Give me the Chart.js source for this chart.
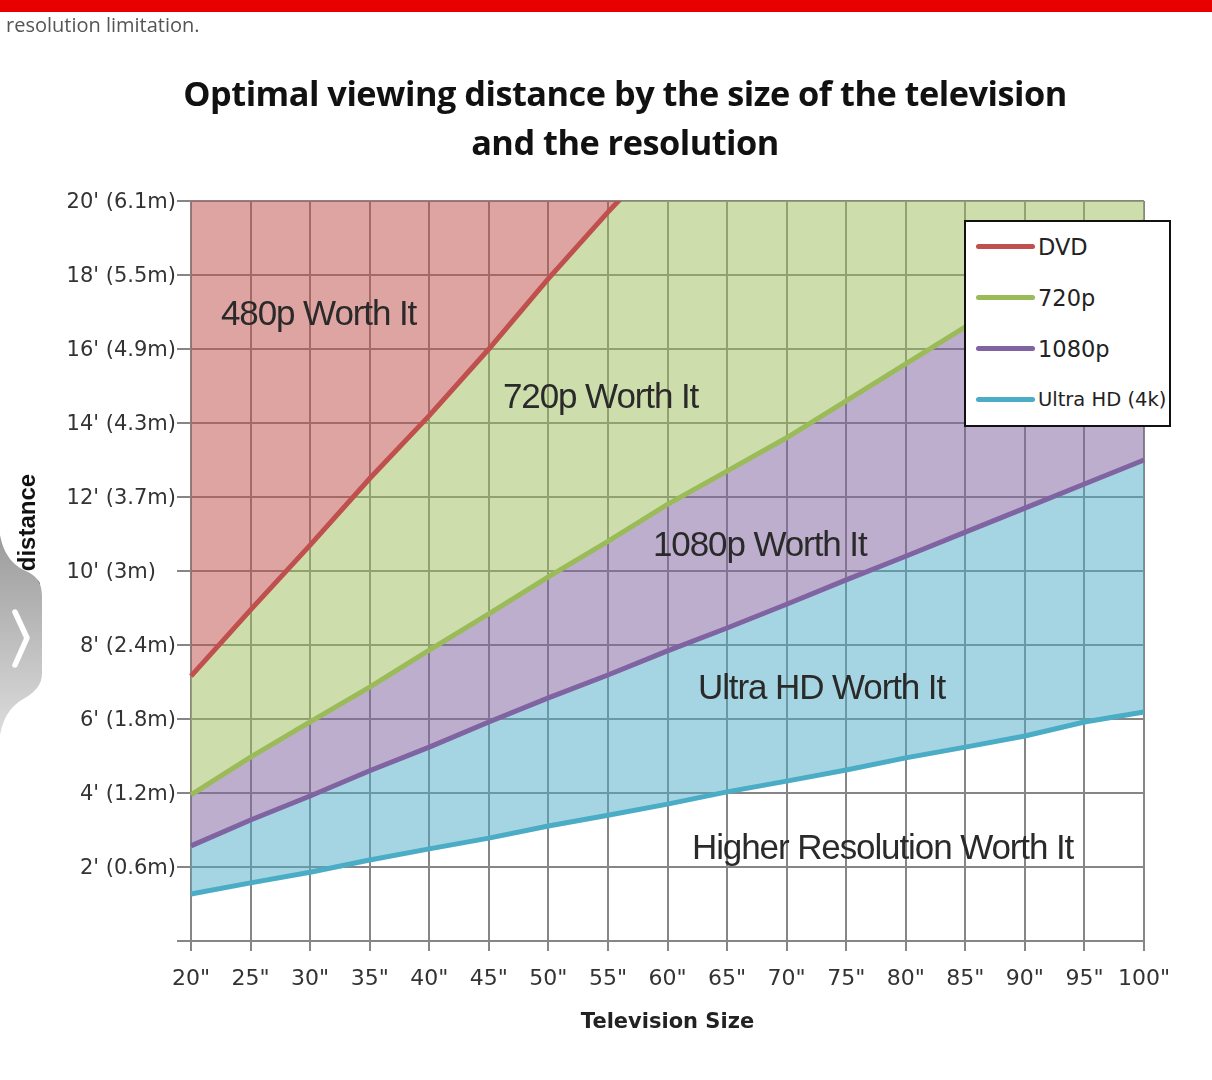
<!DOCTYPE html>
<html>
<head>
<meta charset="utf-8">
<script src="https://cdn.jsdelivr.net/npm/chart.js@4"></script>
<style>
  html, body { margin: 0; padding: 0; background: #fff; }
  #page { position: relative; width: 1212px; height: 1080px; overflow: hidden; }
  #topBar { position: absolute; left: 0; top: 0; width: 1212px; height: 12px; background: #e80000; }
  #topText { position: absolute; left: 6px; top: 11px; font: 20px "Open Sans"; color: #555; }
  #chartTitle { position: absolute; left: 0; top: 68px; width: 1250px; text-align: center; font: bold 34.3px/49px "Open Sans"; letter-spacing: -0.5px; color: #111; }
  canvas { position: absolute; left: 0; top: 0; }
  #legendBox { position: absolute; left: 964px; top: 220px; width: 203px; height: 203px; background: #fff; border: 2px solid #111; }
  .legendRow { position: absolute; left: 0; height: 30px; width: 203px; }
  .legendLine { position: absolute; left: 10px; top: 12px; width: 59px; height: 5px; border-radius: 3px; }
  .legendText { position: absolute; left: 72px; top: 0; font: 22.5px/30px "DejaVu Sans"; color: #222; white-space: nowrap; }
  #tab { position: absolute; left: 0; top: 530px; }
</style>
</head>
<body>
<div id="page">
  <canvas id="viewingChart" width="1212" height="1080"></canvas>
  <div id="topBar"></div>
  <div id="topText">resolution limitation.</div>
  <div id="chartTitle">Optimal viewing distance by the size of the television<br>and the resolution</div>
  <div id="legendBox"></div>
  <svg id="tab" width="50" height="210" viewBox="0 530 50 210">
    <defs>
      <linearGradient id="tabFill" x1="0" y1="0" x2="0" y2="1">
        <stop offset="0" stop-color="#9c9c9c"/>
        <stop offset="1" stop-color="#dcdcdc"/>
      </linearGradient>
    </defs>
    <path d="M0 535 C4 556 14 566 28 572 C38 577 42 584 42 597 L42 673 C42 685 35 692 25 698 C12 705 4 715 0 735 Z" fill="url(#tabFill)"/>
    <path d="M15 612 L27 638 L15 665" fill="none" stroke="#fff" stroke-width="5.5" stroke-linecap="round" stroke-linejoin="round"/>
  </svg>
</div>

<script>
// Chart values
const sizeLabels = ['20"', '25"', '30"', '35"', '40"', '45"', '50"', '55"', '60"', '65"', '70"', '75"', '80"', '85"', '90"', '95"', '100"'];
const dvdFeet = [7.16, 8.95, 10.7, 12.5, 14.2, 16.0, 17.9, 19.7, 21.4, 21.4, 21.4, 21.4, 21.4, 21.4, 21.4, 21.4, 21.4]; // runs off the top after 55"
const p720Feet = [3.95, 4.97, 5.92, 6.86, 7.86, 8.84, 9.84, 10.8, 11.8, 12.7, 13.6, 14.6, 15.6, 16.6, 17.5, 18.5, 19.45];
const p1080Feet = [2.57, 3.27, 3.92, 4.6, 5.24, 5.92, 6.57, 7.19, 7.84, 8.46, 9.1, 9.76, 10.4, 11.05, 11.7, 12.35, 13.0];
const uhdFeet = [1.27, 1.57, 1.86, 2.19, 2.49, 2.78, 3.11, 3.4, 3.7, 4.03, 4.32, 4.62, 4.95, 5.24, 5.54, 5.92, 6.19];
const distanceTicks = { 20: "20' (6.1m)", 18: "18' (5.5m)", 16: "16' (4.9m)", 14: "14' (4.3m)", 12: "12' (3.7m)", 10: "10' (3m)\u00a0\u00a0\u00a0", 8: "8' (2.4m)", 6: "6' (1.8m)", 4: "4' (1.2m)", 2: "2' (0.6m)", 0: '' };
const seriesNames = ['DVD', '720p', '1080p', 'Ultra HD (4k)'];
const seriesColors = ['#c0504d', '#9bbb59', '#8064a2', '#4bacc6'];
const areaColors = ['rgba(192,80,77,0.52)', 'rgba(155,187,89,0.5)', 'rgba(128,100,162,0.52)', 'rgba(75,172,198,0.5)'];
const regionNames = ['480p Worth It', '720p Worth It', '1080p Worth It', 'Ultra HD Worth It', 'Higher Resolution Worth It'];

const gridGrey = '#868686';
const regionSpots = [[221, 315], [503, 398], [653, 546], [698, 689], [692, 849]];

// Region captions sit on top of the coloured bands
const regionCaptions = {
  id: 'regionCaptions',
  afterDatasetsDraw(chart) {
    const ctx = chart.ctx;
    ctx.save();
    ctx.font = '35px "Liberation Sans"';
    ctx.letterSpacing = '-1.1px';
    ctx.fillStyle = '#2a2a2a';
    ctx.textBaseline = 'middle';
    ctx.textAlign = 'left';
    regionNames.forEach((name, i) => {
      ctx.fillText(name, regionSpots[i][0], regionSpots[i][1]);
    });
    ctx.restore();
  }
};

function makeSeries(i, values, fill) {
  return {
    label: seriesNames[i],
    data: values,
    borderColor: seriesColors[i],
    backgroundColor: areaColors[i],
    borderWidth: 5,
    pointRadius: 0,
    tension: 0,
    fill: fill
  };
}

new Chart(document.getElementById('viewingChart'), {
  type: 'line',
  data: {
    labels: sizeLabels,
    datasets: [
      makeSeries(0, dvdFeet, 'end'),
      makeSeries(1, p720Feet, '-1'),
      makeSeries(2, p1080Feet, '-1'),
      makeSeries(3, uhdFeet, '-1')
    ]
  },
  options: {
    responsive: false,
    animation: false,
    layout: { padding: { left: 0, right: 68, top: 201, bottom: 0 } },
    plugins: { legend: { display: false }, title: { display: false }, tooltip: { enabled: false } },
    scales: {
      x: {
        offset: false,
        grid: { color: gridGrey, lineWidth: 2, tickLength: 10, drawTicks: true },
        border: { color: gridGrey, width: 2 },
        ticks: { color: '#333', font: { family: 'DejaVu Sans', size: 22 }, padding: 15, maxRotation: 0, autoSkip: false },
        title: { display: true, text: 'Television Size', color: '#222', font: { family: 'DejaVu Sans', weight: 'bold', size: 21 }, padding: { top: 14, bottom: 45 } },
        afterFit(scale) { scale.height = 139; }
      },
      y: {
        min: 0,
        max: 20,
        grid: { color: gridGrey, lineWidth: 2, tickLength: 14, drawTicks: true },
        border: { color: gridGrey, width: 2 },
        ticks: {
          stepSize: 2,
          color: '#333',
          padding: 1,
          labelOffset: 2,
          font: { family: 'DejaVu Sans', size: 21 },
          callback: value => distanceTicks[value]
        },
        title: { display: true, text: 'Viewing distance', color: '#111', font: { family: 'Liberation Sans', weight: 'bold', size: 24 }, padding: { top: 14, bottom: 0 } },
        afterFit(scale) { scale.width = 191; }
      }
    }
  },
  plugins: [regionCaptions]
});

// Legend rows, built from the series lists
const legendBox = document.getElementById('legendBox');
seriesNames.forEach((name, i) => {
  const row = document.createElement('div');
  row.className = 'legendRow';
  row.style.top = (10 + i * 51) + 'px';
  row.innerHTML = `<div class="legendLine" style="background:${seriesColors[i]}"></div><div class="legendText">${name}</div>`;
  legendBox.appendChild(row);
});
legendBox.lastChild.querySelector('.legendText').style.fontSize = '19.5px';
</script>
</body>
</html>
